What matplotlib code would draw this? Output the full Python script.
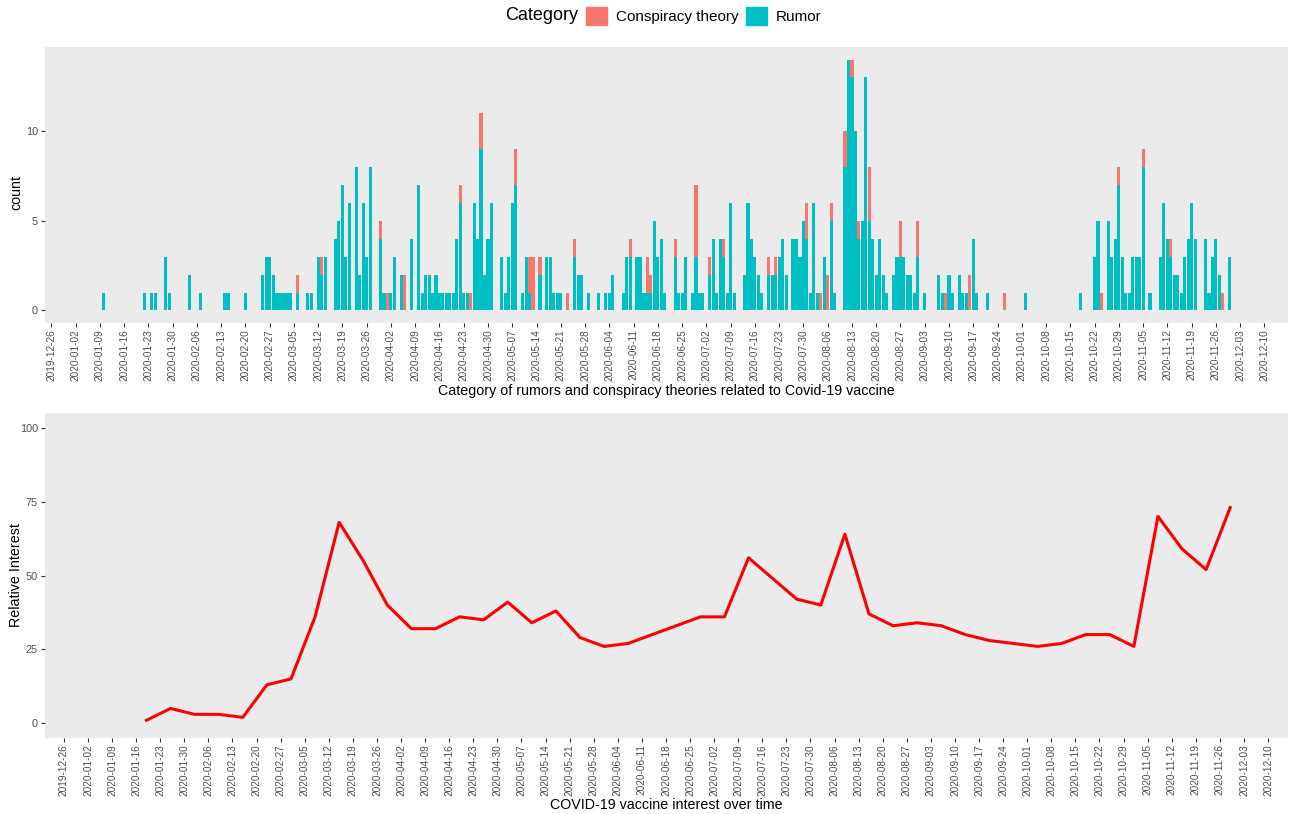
import numpy as np
import pandas as pd
import matplotlib
matplotlib.use("Agg")
import matplotlib.pyplot as plt
import matplotlib.dates as mdates
from matplotlib.patches import Patch

plt.rcParams["font.family"] = ["Liberation Sans", "DejaVu Sans"]

# ── daily counts (days with no posts are omitted) ────────────────────────────
days = [
    "2020-01-10", "2020-01-22", "2020-01-24", "2020-01-25", "2020-01-28", "2020-01-29",
    "2020-02-04", "2020-02-07", "2020-02-14", "2020-02-15", "2020-02-20", "2020-02-25",
    "2020-02-26", "2020-02-27", "2020-02-28", "2020-02-29", "2020-03-01", "2020-03-02",
    "2020-03-03", "2020-03-04", "2020-03-06", "2020-03-09", "2020-03-10", "2020-03-12",
    "2020-03-13", "2020-03-14", "2020-03-17", "2020-03-18", "2020-03-19", "2020-03-20",
    "2020-03-21", "2020-03-23", "2020-03-24", "2020-03-25", "2020-03-26", "2020-03-27",
    "2020-03-30", "2020-03-31", "2020-04-01", "2020-04-02", "2020-04-03", "2020-04-05",
    "2020-04-06", "2020-04-08", "2020-04-10", "2020-04-11", "2020-04-12", "2020-04-13",
    "2020-04-14", "2020-04-15", "2020-04-16", "2020-04-17", "2020-04-18", "2020-04-19",
    "2020-04-20", "2020-04-21", "2020-04-22", "2020-04-23", "2020-04-24", "2020-04-25",
    "2020-04-26", "2020-04-27", "2020-04-28", "2020-04-29", "2020-04-30", "2020-05-01",
    "2020-05-04", "2020-05-05", "2020-05-06", "2020-05-07", "2020-05-08", "2020-05-10",
    "2020-05-11", "2020-05-12", "2020-05-13", "2020-05-15", "2020-05-17", "2020-05-18",
    "2020-05-19", "2020-05-20", "2020-05-21", "2020-05-23", "2020-05-25", "2020-05-26",
    "2020-05-27", "2020-05-29", "2020-06-01", "2020-06-03", "2020-06-04", "2020-06-05",
    "2020-06-08", "2020-06-09", "2020-06-10", "2020-06-12", "2020-06-13", "2020-06-14",
    "2020-06-15", "2020-06-16", "2020-06-17", "2020-06-18", "2020-06-19", "2020-06-20",
    "2020-06-23", "2020-06-24", "2020-06-25", "2020-06-26", "2020-06-28", "2020-06-29",
    "2020-06-30", "2020-07-01", "2020-07-03", "2020-07-04", "2020-07-05", "2020-07-06",
    "2020-07-07", "2020-07-08", "2020-07-09", "2020-07-10", "2020-07-13", "2020-07-14",
    "2020-07-15", "2020-07-16", "2020-07-17", "2020-07-18", "2020-07-20", "2020-07-21",
    "2020-07-22", "2020-07-23", "2020-07-24", "2020-07-25", "2020-07-27", "2020-07-28",
    "2020-07-29", "2020-07-30", "2020-07-31", "2020-08-01", "2020-08-02", "2020-08-03",
    "2020-08-04", "2020-08-05", "2020-08-06", "2020-08-07", "2020-08-08", "2020-08-11",
    "2020-08-12", "2020-08-13", "2020-08-14", "2020-08-15", "2020-08-16", "2020-08-17",
    "2020-08-18", "2020-08-19", "2020-08-20", "2020-08-21", "2020-08-22", "2020-08-23",
    "2020-08-25", "2020-08-26", "2020-08-27", "2020-08-28", "2020-08-29", "2020-08-30",
    "2020-08-31", "2020-09-01", "2020-09-03", "2020-09-07", "2020-09-08", "2020-09-09",
    "2020-09-10", "2020-09-11", "2020-09-13", "2020-09-14", "2020-09-15", "2020-09-16",
    "2020-09-17", "2020-09-18", "2020-09-21", "2020-09-26", "2020-10-02", "2020-10-18",
    "2020-10-22", "2020-10-23", "2020-10-24", "2020-10-26", "2020-10-27", "2020-10-28",
    "2020-10-29", "2020-10-30", "2020-10-31", "2020-11-01", "2020-11-02", "2020-11-03",
    "2020-11-04", "2020-11-05", "2020-11-07", "2020-11-10", "2020-11-11", "2020-11-12",
    "2020-11-13", "2020-11-14", "2020-11-15", "2020-11-16", "2020-11-17", "2020-11-18",
    "2020-11-19", "2020-11-20", "2020-11-23", "2020-11-24", "2020-11-25", "2020-11-26",
    "2020-11-27", "2020-11-28", "2020-11-30",
]
rumor = [
    1, 1, 1, 1, 3, 1,
    2, 1, 1, 1, 1, 2,
    3, 3, 2, 1, 1, 1,
    1, 1, 1, 1, 1, 3,
    2, 3, 4, 5, 7, 3,
    6, 8, 2, 6, 3, 8,
    4, 1, 0, 1, 3, 2,
    0, 4, 7, 1, 2, 2,
    1, 2, 1, 1, 1, 1,
    1, 4, 6, 1, 1, 0,
    6, 4, 9, 2, 4, 6,
    3, 1, 3, 6, 7, 1,
    3, 1, 0, 2, 3, 3,
    1, 1, 1, 0, 3, 2,
    2, 1, 1, 1, 1, 2,
    1, 3, 3, 3, 3, 1,
    1, 1, 5, 3, 4, 1,
    3, 1, 1, 3, 1, 3,
    1, 1, 2, 4, 1, 4,
    3, 1, 6, 1, 2, 6,
    4, 3, 2, 1, 2, 2,
    2, 3, 4, 2, 4, 4,
    3, 5, 4, 1, 6, 1,
    0, 3, 0, 5, 1, 8,
    14, 13, 10, 4, 5, 13,
    5, 4, 2, 4, 2, 1,
    2, 3, 3, 3, 2, 2,
    1, 3, 1, 2, 1, 0,
    2, 1, 2, 1, 1, 0,
    4, 1, 1, 0, 1, 1,
    3, 5, 0, 5, 3, 4,
    7, 3, 1, 1, 3, 3,
    3, 8, 1, 3, 6, 4,
    3, 2, 2, 1, 3, 4,
    6, 4, 4, 1, 3, 4,
    2, 0, 3,
]
conspiracy = [
    0, 0, 0, 0, 0, 0,
    0, 0, 0, 0, 0, 0,
    0, 0, 0, 0, 0, 0,
    0, 0, 1, 0, 0, 0,
    1, 0, 0, 0, 0, 0,
    0, 0, 0, 0, 0, 0,
    1, 0, 1, 0, 0, 0,
    2, 0, 0, 0, 0, 0,
    0, 0, 0, 0, 0, 0,
    0, 0, 1, 0, 0, 1,
    0, 0, 2, 0, 0, 0,
    0, 0, 0, 0, 2, 0,
    0, 2, 3, 1, 0, 0,
    0, 0, 0, 1, 1, 0,
    0, 0, 0, 0, 0, 0,
    0, 0, 1, 0, 0, 0,
    2, 1, 0, 0, 0, 0,
    1, 0, 0, 0, 0, 4,
    0, 0, 1, 0, 0, 0,
    1, 0, 0, 0, 0, 0,
    0, 0, 0, 0, 1, 0,
    1, 0, 0, 0, 0, 0,
    0, 0, 2, 0, 0, 0,
    1, 0, 2, 1, 0, 2,
    0, 1, 0, 1, 0, 0,
    3, 0, 0, 0, 0, 0,
    0, 0, 2, 0, 0, 0,
    0, 2, 0, 0, 0, 1,
    0, 0, 0, 0, 0, 2,
    0, 0, 0, 1, 0, 0,
    0, 0, 1, 0, 0, 0,
    1, 0, 0, 0, 0, 0,
    0, 1, 0, 0, 0, 0,
    1, 0, 0, 0, 0, 0,
    0, 0, 0, 0, 0, 0,
    0, 1, 0,
]

# ── weekly Google-Trends style relative interest ─────────────────────────────
week_start = "2020-01-19"
interest = [
    1, 5, 3, 3, 2, 13, 15, 36, 68, 55,
    40, 32, 32, 36, 35, 41, 34, 38, 29, 26,
    27, 30, 33, 36, 36, 56, 49, 42, 40, 64,
    37, 33, 34, 33, 30, 28, 27, 26, 27, 30,
    30, 26, 70, 59, 52, 73,
]

TEAL = "#00BFC4"
SALMON = "#F8766D"
PANEL = "#EBEBEB"
TICKC = "#4D4D4D"

d = pd.to_datetime(days)
weeks = pd.date_range(week_start, periods=len(interest), freq="7D")
ticks = pd.date_range("2019-12-26", "2020-12-10", freq="7D")
origin = pd.Timestamp("2019-12-26")

W, H = 1292, 814
fig = plt.figure(figsize=(W / 100, H / 100), dpi=100)


def box(x0, y0, x1, y1):
    return [x0 / W, 1 - y1 / H, (x1 - x0) / W, (y1 - y0) / H]


def style(ax):
    ax.set_facecolor(PANEL)
    for s in ax.spines.values():
        s.set_visible(False)
    ax.set_xticks(ticks)
    ax.xaxis.set_major_formatter(mdates.DateFormatter("%Y-%m-%d"))
    ax.tick_params(axis="x", rotation=90, labelsize=7.2, pad=1.5)
    ax.tick_params(axis="y", labelsize=7.8, pad=2)
    ax.tick_params(length=3, width=0.8, color="#333333", labelcolor=TICKC)


# panel A: daily stacked bars
ax1 = fig.add_axes(box(45, 47, 1288, 323))
ax1.bar(d, rumor, width=0.9, color=TEAL, linewidth=0)
ax1.bar(d, conspiracy, bottom=rumor, width=0.9, color=SALMON, linewidth=0)
style(ax1)
ax1.set_xlim(origin + pd.Timedelta(days=-1.8), origin + pd.Timedelta(days=356.8))
ax1.set_ylim(-0.7, 14.7)
ax1.set_yticks([0, 5, 10])

# panel B: relative interest line
ax2 = fig.add_axes(box(45, 413, 1288, 738))
ax2.plot(weeks, interest, color="red", linewidth=2.2)
style(ax2)
ax2.set_xlim(origin + pd.Timedelta(days=-5.5), origin + pd.Timedelta(days=355.8))
ax2.set_ylim(-5, 105)
ax2.set_yticks([0, 25, 50, 75, 100])

# axis titles
fig.text(666 / W, 1 - 391 / H, "Category of rumors and conspiracy theories related to Covid-19 vaccine",
         fontsize=10.3, ha="center", va="center")
fig.text(666 / W, 1 - 805 / H, "COVID-19 vaccine interest over time",
         fontsize=10.3, ha="center", va="center")
fig.text(16 / W, 1 - 192 / H, "count", fontsize=10.3, rotation=90, ha="center", va="center")
fig.text(16 / W, 1 - 575 / H, "Relative Interest", fontsize=10.3, rotation=90,
         ha="center", va="center")

# legend across the top
fig.text(505 / W, 1 - 16 / H, "Category", fontsize=13, ha="left", va="center")
handles = [Patch(color=SALMON, label="Conspiracy theory"),
           Patch(color=TEAL, label="Rumor")]
fig.legend(handles=handles, loc="center left", bbox_to_anchor=(586 / W, 1 - 16 / H),
           ncol=2, frameon=False, fontsize=11, handlelength=1.35, handleheight=1.35,
           handletextpad=0.6, columnspacing=0.5, borderpad=0, borderaxespad=0)

fig.savefig("out.png", dpi=100)
